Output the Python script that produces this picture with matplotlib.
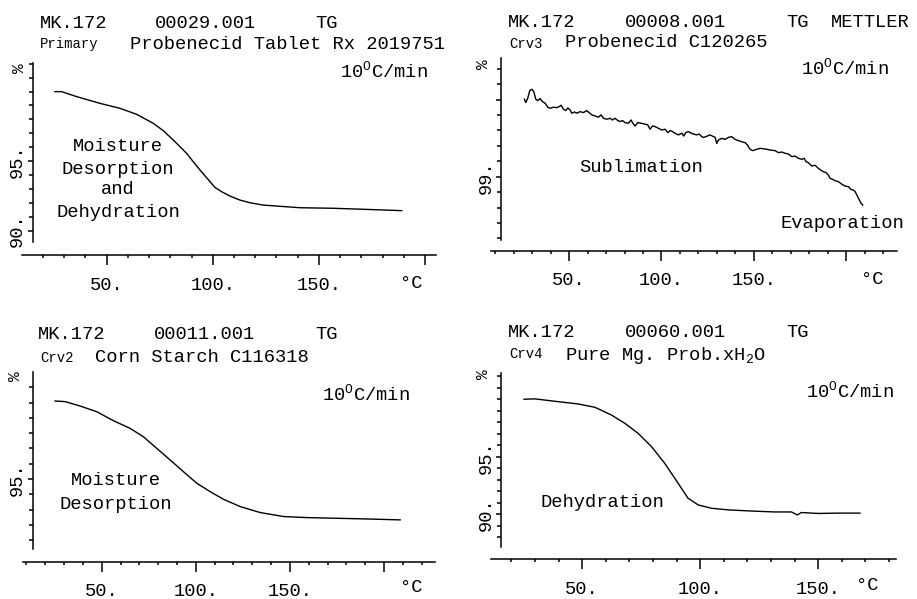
import matplotlib
matplotlib.use("Agg")
import matplotlib.pyplot as plt

W, H = 917, 599

plt.rcParams['font.family'] = ['Liberation Mono', 'DejaVu Sans Mono']
plt.rcParams['mathtext.fontset'] = 'custom'
plt.rcParams['mathtext.rm'] = 'Liberation Mono'
plt.rcParams['mathtext.it'] = 'Liberation Mono'
plt.rcParams['mathtext.bf'] = 'Liberation Mono'

# ---------------- data ----------------
# Probenecid Tablet Rx 2019751
tab_temp = [25.6, 28.8, 35.9, 46.8, 56.3, 64.1, 72.0, 76.7, 81.4, 87.7, 90.8, 94.0,
            98.7, 101.0, 104.2, 108.1, 112.8, 117.5, 123.8, 141.1, 156.8, 172.5, 189.0]
tab_mass = [99.99, 99.99, 99.63, 99.15, 98.79, 98.36, 97.71, 97.18, 96.51, 95.55, 94.95, 94.35,
            93.51, 93.10, 92.79, 92.48, 92.19, 92.00, 91.83, 91.64, 91.60, 91.52, 91.43]

# Probenecid C120265 (noisy sublimation trace)
api_temp = [25.8, 26.55, 27.63, 28.72, 29.8, 30.88, 31.96, 33.05, 34.31, 35.57, 37.01, 38.46,
            39.72, 41.52, 43.33, 44.77, 45.67, 46.93, 48.2, 49.28, 50.54, 51.44, 52.89, 54.15,
            55.95, 57.76, 59.56, 60.82, 62.27, 64.07, 65.87, 67.32, 68.58, 70.38, 72.19, 73.45,
            74.89, 76.34, 77.6, 78.86, 80.3, 82.11, 83.55, 84.27, 85.72, 87.16, 88.96, 90.77,
            92.57, 93.83, 95.1, 96.54, 98.34, 100.14, 101.95, 103.39, 104.65, 105.92, 107.36,
            109.16, 110.97, 112.05, 113.13, 114.57, 116.02, 117.28, 119.08, 120.35, 121.43,
            122.69, 123.96, 126.3, 129.0, 129.9, 130.8, 132.6, 134.4, 136.2, 138.0, 139.8,
            141.6, 143.4, 145.2, 146.5, 147.9, 149.4, 151.6, 153.4, 156.1, 158.8, 161.5, 163.3,
            165.1, 166.9, 168.7, 170.5, 172.3, 174.1, 175.9, 177.2, 178.25, 179.5, 181.3, 183.1,
            184.9, 186.2, 187.6, 189.1, 190.3, 191.2, 192.7, 193.9, 195.7, 197.5, 199.4, 201.2,
            202.4, 203.9, 204.8, 206.0, 207.1, 208.0, 208.9]
api_mass = [99.503, 99.481, 99.509, 99.559, 99.567, 99.552, 99.503, 99.494, 99.507, 99.487,
            99.477, 99.451, 99.444, 99.451, 99.448, 99.455, 99.464, 99.438, 99.429, 99.446,
            99.433, 99.412, 99.42, 99.412, 99.422, 99.416, 99.429, 99.416, 99.401, 99.394,
            99.386, 99.401, 99.379, 99.373, 99.379, 99.368, 99.379, 99.364, 99.358, 99.364,
            99.351, 99.347, 99.368, 99.351, 99.329, 99.351, 99.347, 99.342, 99.336, 99.308,
            99.329, 99.325, 99.314, 99.303, 99.308, 99.286, 99.299, 99.293, 99.282, 99.271,
            99.282, 99.264, 99.286, 99.293, 99.282, 99.277, 99.271, 99.277, 99.264, 99.254,
            99.26, 99.271, 99.255, 99.216, 99.238, 99.249, 99.242, 99.255, 99.26, 99.242,
            99.234, 99.227, 99.221, 99.206, 99.178, 99.169, 99.178, 99.184, 99.18, 99.173,
            99.169, 99.156, 99.16, 99.152, 99.147, 99.13, 99.134, 99.119, 99.113, 99.119,
            99.097, 99.091, 99.069, 99.074, 99.054, 99.043, 99.033, 99.026, 99.011, 98.989,
            98.983, 98.974, 98.968, 98.952, 98.939, 98.935, 98.918, 98.913, 98.903, 98.874,
            98.848, 98.827, 98.816]

# Corn Starch C116318
starch_temp = [25.2, 30.5, 38.5, 47.3, 56.2, 65.0, 72.1, 79.2, 86.3, 93.4, 100.5, 107.6,
               114.7, 123.6, 134.2, 146.6, 159.0, 173.2, 190.9, 208.6]
starch_mass = [100.11, 100.07, 99.78, 99.41, 98.82, 98.32, 97.77, 97.01, 96.25, 95.48, 94.72,
               94.17, 93.67, 93.19, 92.80, 92.54, 92.47, 92.43, 92.38, 92.32]

# Pure Mg. Prob.xH2O
mg_temp = [25.4, 30.0, 39.8, 48.3, 55.4, 62.4, 68.1, 73.7, 79.4, 85.0, 90.7, 94.9, 99.2,
           104.8, 111.9, 121.7, 131.6, 138.7, 141.2, 142.9, 150.0, 158.5, 167.7]
mg_mass = [100.02, 100.05, 99.81, 99.61, 99.32, 98.65, 97.93, 97.06, 95.90, 94.45, 92.71,
           91.41, 90.83, 90.54, 90.40, 90.30, 90.22, 90.22, 89.96, 90.17, 90.09, 90.12, 90.12]

x_major = [50, 100, 150, 200]
x_labels = ["50.", "100.", "150.", ""]

fig = plt.figure(figsize=(W / 100, H / 100), dpi=100)
fig.patch.set_facecolor('white')

MAIN = 13.5
SMALL = 10


def put(x, y, s, size=MAIN, ha='left', va='baseline', rot=0):
    # x, y in picture pixels from the top left corner
    fig.text(x / W, 1 - y / H, s, fontsize=size, ha=ha, va=va, rotation=rot, color='black')


def panel(box, xlim, ylim, yaxis_at, ybounds, ymajor, ylabels, yminor, xminor, temp, mass):
    left, top, right, bottom = box
    ax = fig.add_axes([left / W, 1 - bottom / H, (right - left) / W, (bottom - top) / H])
    ax.patch.set_visible(False)
    ax.plot(temp, mass, color='black', lw=1.0)
    ax.set_xlim(*xlim)
    ax.set_ylim(*ylim)
    ax.spines['top'].set_visible(False)
    ax.spines['right'].set_visible(False)
    ax.spines['left'].set_position(('data', yaxis_at))
    ax.spines['left'].set_bounds(*ybounds)
    for s in ['left', 'bottom']:
        ax.spines[s].set_linewidth(1.1)
    ticks = [t for t in x_major if xlim[0] <= t <= xlim[1]]
    ax.set_xticks(ticks)
    ax.set_xticklabels(x_labels[:len(ticks)])
    ax.set_xticks(xminor, minor=True)
    ax.set_yticks(ymajor)
    ax.set_yticklabels(ylabels, rotation=90, va='center')
    ax.set_yticks(yminor, minor=True)
    ax.tick_params(axis='x', which='major', direction='out', length=7.5, width=1.1,
                   pad=8, labelsize=MAIN)
    ax.tick_params(axis='x', which='minor', direction='out', length=2.2, width=1.1)
    ax.tick_params(axis='y', which='major', direction='out', length=3.5, width=1.1,
                   pad=1.5, labelsize=MAIN)
    ax.tick_params(axis='y', which='minor', direction='out', length=3, width=1.1)
    return ax


deg_rate = r"10$^{\mathrm{O}}$C/min"

# ---- panel 1 : top left ----
panel((21.7, 63, 435.7, 255), (10, 205), (88.24, 102.05), 15.3, (89.17, 102.05),
      [90, 95], ["90.", "95."], list(range(91, 103)), list(range(20, 201, 10)),
      tab_temp, tab_mass)
put(40, 28, "MK.172")
put(155, 28, "00029.001")
put(315, 28, "TG")
put(40, 48, "Primary", SMALL)
put(130, 49, "Probenecid Tablet Rx 2019751")
put(340, 77, deg_rate)
put(20, 68, "%", 11.5, ha='center', va='center', rot=90)
for s, yb in zip(["Moisture", "Desorption", "and", "Dehydration"], [151, 174, 194, 217]):
    put(118, yb, s, ha='center')
put(400, 288, "°C")

# ---- panel 2 : top right ----
panel((491.3, 58, 897.3, 250.7), (7.9, 227.6), (98.52, 99.77), 13.4, (98.59, 99.77),
      [99.0, 99.5], ["99.", ""], [98.6, 98.7, 98.8, 98.9, 99.1, 99.2, 99.3, 99.4, 99.6, 99.7],
      list(range(10, 221, 10)), api_temp, api_mass)
put(508, 27, "MK.172")
put(625, 27, "00008.001")
put(786, 27, "TG")
put(831, 27, "METTLER")
put(509, 48, "Crv3", SMALL)
put(565, 47, "Probenecid C120265")
put(801, 74, deg_rate)
put(483, 64, "%", 11.5, ha='center', va='center', rot=90)
put(579, 172, "Sublimation")
put(780, 228, "Evaporation")
put(861, 284, "°C")

# ---- panel 3 : bottom left ----
panel((23.3, 371.7, 435, 561.7), (8.3, 227.1), (89.58, 102.03), 13.3, (90.4, 102.03),
      [95], ["95."], [91, 92, 93, 94, 96, 97, 98, 99, 100, 101], list(range(10, 221, 10)),
      starch_temp, starch_mass)
put(38, 339, "MK.172")
put(154, 339, "00011.001")
put(315, 339, "TG")
put(40, 362, "Crv2", SMALL)
put(95, 362, "Corn Starch C116318")
put(322, 400, deg_rate)
put(15, 376, "%", 11.5, ha='center', va='center', rot=90)
put(116, 485, "Moisture", ha='center')
put(116, 509, "Desorption", ha='center')
put(400, 592, "°C")

# ---- panel 4 : bottom right ----
panel((491, 373, 896, 559), (11.4, 183), (86.13, 102.3), 15.8, (87.17, 102.3),
      [90, 95], ["90.", "95."], [88, 89, 91, 92, 93, 94, 96, 97, 98, 99, 100, 101, 102],
      list(range(20, 181, 10)), mg_temp, mg_mass)
put(508, 337, "MK.172")
put(625, 337, "00060.001")
put(786, 337, "TG")
put(509, 358, "Crv4", SMALL)
put(565, 360, r"Pure Mg. Prob.xH$_{\mathrm{2}}$O")
put(806, 397, deg_rate)
put(483, 374, "%", 11.5, ha='center', va='center', rot=90)
put(541, 507, "Dehydration")
put(856, 590, "°C")

fig.savefig("out.png", dpi=100, facecolor='white')
